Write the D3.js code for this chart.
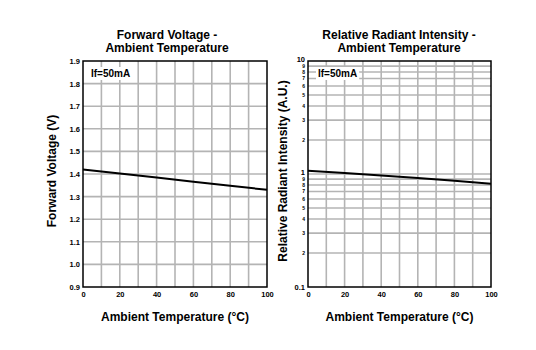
<!DOCTYPE html>
<html><head><meta charset="utf-8">
<script src="https://cdn.jsdelivr.net/npm/d3@7/dist/d3.min.js"></script>
<style>body{margin:0;background:#fff}svg{display:block;font-family:"Liberation Sans",Arial,sans-serif;font-weight:bold}</style>
</head><body><svg id="c" width="536" height="350"></svg>
<script>
const temps = [0, 20, 40, 60, 80, 100];
const forwardVoltage = [1.42, 1.402, 1.384, 1.366, 1.348, 1.33];
const relIntensity = [1.07, 1.02, 0.97, 0.92, 0.87, 0.82];
const xTicks = [0, 20, 40, 60, 80, 100];
const vTicks = [0.9, 1.0, 1.1, 1.2, 1.3, 1.4, 1.5, 1.6, 1.7, 1.8, 1.9];
const logMajor = [0.1, 1, 10];
const logMinorLabels = ["2","3","4","5","6","7","8","9"];
const condition = "If=50mA";

const svg = d3.select("#c");
const plotTop = 61, plotBottom = 287;
const gridColor = "#b4b4b4";

function panel(x0, x1, yScale, yGridVals, titleLines, yTitle, data, titleCx, yTitleX, lblDx) {
  const x = d3.scaleLinear().domain([0, 100]).range([x0, x1]);
  const g = svg.append("g");
  g.selectAll(".vg").data(d3.range(10, 100, 10)).join("line")
    .attr("x1", d => x(d)).attr("x2", d => x(d)).attr("y1", plotTop).attr("y2", plotBottom)
    .attr("stroke", gridColor).attr("stroke-width", 1.6);
  g.selectAll(".hg").data(yGridVals).join("line")
    .attr("x1", x0).attr("x2", x1).attr("y1", d => yScale(d)).attr("y2", d => yScale(d))
    .attr("stroke", gridColor).attr("stroke-width", 1.6);
  const lbl = g.append("text").attr("x", x0 + lblDx).attr("y", 77).attr("font-size", 10).text(condition);
  const bb = lbl.node().getBBox();
  g.insert("rect", "text").attr("x", bb.x - 2).attr("y", bb.y - 1).attr("width", bb.width + 4).attr("height", bb.height + 2).attr("fill", "#fff");
  g.append("rect").attr("x", x0).attr("y", plotTop).attr("width", x1 - x0).attr("height", plotBottom - plotTop)
    .attr("fill", "none").attr("stroke", "#000").attr("stroke-width", 1.5);
  g.append("path").datum(d3.zip(temps, data))
    .attr("d", d3.line().x(d => x(d[0])).y(d => yScale(d[1])))
    .attr("fill", "none").attr("stroke", "#000").attr("stroke-width", 2);
  const xa = g.append("g").attr("transform", `translate(0,${plotBottom})`)
    .call(d3.axisBottom(x).tickValues(xTicks).tickSize(0).tickPadding(5).tickFormat(d3.format("d")));
  xa.select(".domain").remove();
  xa.selectAll("text").attr("font-size", 7.5).attr("font-family", null).attr("fill", "#000");
  titleLines.forEach((t, i) => g.append("text").attr("x", titleCx).attr("y", 39 + i * 12.5)
    .attr("text-anchor", "middle").attr("font-size", 12).text(t));
  g.append("text").attr("x", (x0 + x1) / 2).attr("y", 321).attr("text-anchor", "middle")
    .attr("font-size", 12).text("Ambient Temperature (°C)");
  g.append("text").attr("transform", `translate(${yTitleX},${(plotTop + plotBottom) / 2 - 3}) rotate(-90)`)
    .attr("text-anchor", "middle").attr("dy", "0.35em").attr("font-size", 12).text(yTitle);
  return g;
}

const yV = d3.scaleLinear().domain([0.9, 1.9]).range([plotBottom, plotTop]);
const gL = panel(83, 267, yV, vTicks.slice(1, -1), ["Forward Voltage -", "Ambient Temperature"],
  "Forward Voltage (V)", forwardVoltage, 167, 52, 8);
const ya = gL.append("g").attr("transform", "translate(80,0)")
  .call(d3.axisLeft(yV).tickValues(vTicks).tickSize(0).tickPadding(0).tickFormat(d3.format(".1f")));
ya.select(".domain").remove();
ya.selectAll("text").attr("font-size", 7.5).attr("font-family", null).attr("fill", "#000");

const yI = d3.scaleLog().domain([0.1, 10]).range([plotBottom, plotTop]);
const minorVals = [];
[0.1, 1].forEach(dec => d3.range(2, 10).forEach(m => minorVals.push(+(dec * m).toFixed(2))));
const gR = panel(308, 491, yI, minorVals.concat([1]), ["Relative Radiant Intensity -", "Ambient Temperature"],
  "Relative Radiant Intensity (A.U.)", relIntensity, 399, 283, 10);
const yMajor = gR.append("g").attr("transform", "translate(305,0)")
  .call(d3.axisLeft(yI).tickValues(logMajor).tickSize(0).tickPadding(0).tickFormat(d => d3.format("~g")(d)));
yMajor.select(".domain").remove();
yMajor.selectAll("text").attr("font-size", 7.5).attr("font-family", null).attr("fill", "#000");
yMajor.selectAll(".tick").filter(d => d === 1 || d === 10).select("text").attr("dy", "0.1em");
const minorData = minorVals.map((v, i) => ({v, label: logMinorLabels[i % 8]}));
gR.selectAll(".ml").data(minorData).join("text")
  .attr("x", 305).attr("y", d => yI(d.v)).attr("dy", "0.35em").attr("text-anchor", "end")
  .attr("font-size", 5).text(d => d.label);
</script></body></html>
